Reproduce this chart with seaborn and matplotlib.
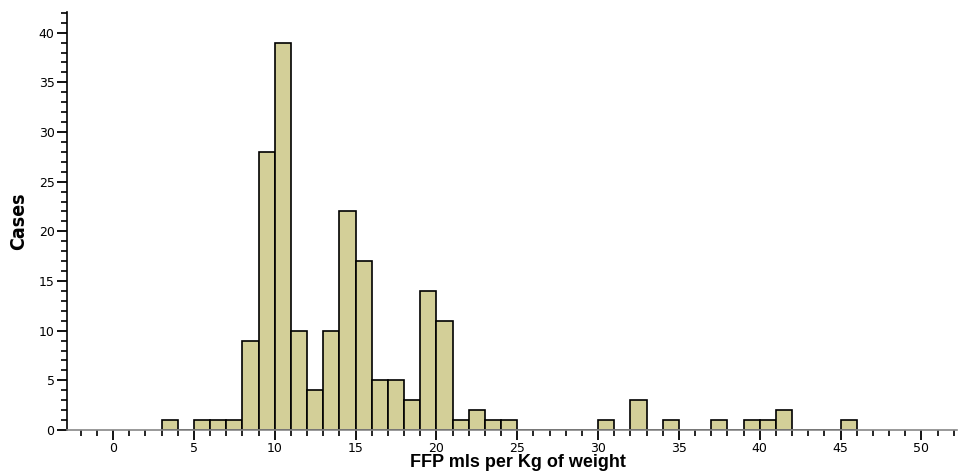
import numpy as np
import pandas as pd
import matplotlib
matplotlib.use("Agg")
import matplotlib.pyplot as plt
import seaborn as sns
from matplotlib.ticker import MultipleLocator
from matplotlib import font_manager

# Bin centres (bins of width 1) and counts
bin_centres = [3.5, 5.5, 6.5, 7.5, 8.5, 9.5, 10.5, 11.5, 12.5, 13.5, 14.5, 15.5,
               16.5, 17.5, 18.5, 19.5, 20.5, 21.5, 22.5, 23.5, 24.5,
               30.5, 32.5, 34.5, 37.5, 39.5, 40.5, 41.5, 45.5]
counts = [1, 1, 1, 1, 9, 28, 39, 10, 4, 10, 22, 17,
          5, 5, 3, 14, 11, 1, 2, 1, 1,
          1, 3, 1, 1, 1, 1, 2, 1]
x_label = "FFP mls per Kg of weight"
y_label = "Cases"

df = pd.DataFrame({"ffp": bin_centres, "n": counts})

sns.set_style("white")
plt.rcParams['font.family'] = ['DejaVu Sans']

names = {f.name for f in font_manager.fontManager.ttflist}
narrow = "Liberation Sans Narrow" if "Liberation Sans Narrow" in names else None

fig = plt.figure(figsize=(9.6, 4.72), dpi=100)
ax = fig.add_axes([0.0698, 0.089, 0.927, 0.886])

sns.histplot(data=df, x="ffp", weights="n", binwidth=1, binrange=(3, 46),
             color="#D3CF98", alpha=1.0, edgecolor="black", linewidth=1.2, ax=ax)

ax.set_xlim(-2.85, 52.2)
ax.set_ylim(0, 42.1)
ax.xaxis.set_major_locator(MultipleLocator(5))
ax.xaxis.set_minor_locator(MultipleLocator(1))
ax.yaxis.set_major_locator(MultipleLocator(5))
ax.yaxis.set_minor_locator(MultipleLocator(1))

for s in ["top", "right"]:
    ax.spines[s].set_visible(False)
ax.spines["left"].set_color("black")
ax.spines["left"].set_linewidth(1.2)
ax.spines["bottom"].set_color("#888888")
ax.spines["bottom"].set_linewidth(1.2)

ax.tick_params(axis="both", which="both", bottom=True, left=True, top=False, right=False)
ax.tick_params(axis="both", which="major", direction="out", length=7, width=1.3,
               color="black", labelsize=9, labelcolor="black")
ax.tick_params(axis="both", which="minor", direction="out", length=4, width=1.2,
               color="black")
ax.tick_params(axis="x", which="major", pad=1.5)
ax.tick_params(axis="y", which="major", pad=2)

ax.set_xlabel(x_label, fontsize=13, fontweight="bold", color="black",
              family=["Liberation Sans", "DejaVu Sans"], va="center")
ax.xaxis.set_label_coords(0.507, -0.078)
if narrow:
    ax.set_ylabel(y_label, fontsize=16, fontweight="bold", color="black", family=[narrow],
                  va="center")
else:
    ax.set_ylabel(y_label, fontsize=14, fontweight="bold", color="black",
                  family=["DejaVu Sans"], fontstretch="condensed", va="center")
ax.yaxis.set_label_coords(-0.054, 0.5)

fig.savefig("out.png", dpi=100)
